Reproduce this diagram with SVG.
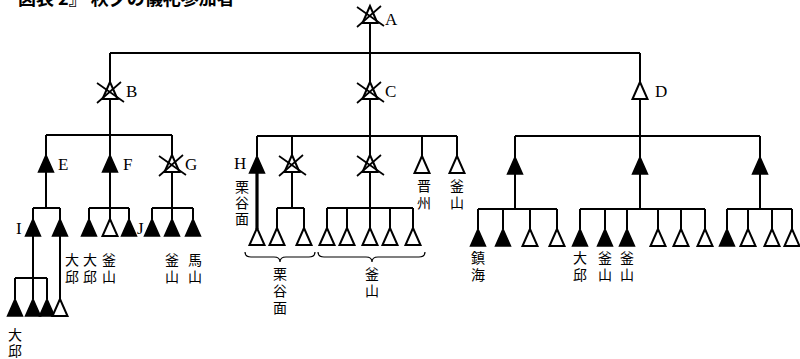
<svg xmlns="http://www.w3.org/2000/svg" xmlns:xlink="http://www.w3.org/1999/xlink" width="800" height="359" viewBox="0 0 800 359">
<style>
.ln{fill:none;stroke:#000;stroke-width:2}
.thick{fill:none;stroke:#000;stroke-width:3.2}
.br{fill:none;stroke:#000;stroke-width:1.2}
.f{fill:#000;stroke:#000;stroke-width:1.5;stroke-linejoin:miter}
.o{fill:#fff;stroke:#000;stroke-width:2;stroke-linejoin:miter}
.xl{fill:none;stroke:#000;stroke-width:1.7}
.lt{font-family:"Liberation Serif",serif;font-size:17px;fill:#000}
.cj{font-family:"Noto Sans CJK JP","Noto Sans CJK SC",sans-serif;font-size:14px;fill:#000;writing-mode:vertical-rl;letter-spacing:3px}
.ti{font-family:"Noto Sans CJK JP","Noto Sans CJK SC",sans-serif;font-size:18px;font-weight:bold;fill:#000}
</style>
<defs>
<path id="tf" class="f" d="M0,0 L-7.5,17 L7.5,17 Z"/>
<path id="to" class="o" d="M0,0 L-7.5,17 L7.5,17 Z"/>
<g id="tx"><path class="o" d="M0,0 L-7.5,17 L7.5,17 Z"/><path class="xl" d="M-13,1 L14,20 M11,0 L-13,21"/></g>
</defs>
<rect width="800" height="359" fill="#fff"/>
<text class="ti" x="18" y="5">図表 2』 秋夕の儀礼参加者</text>

<g id="connectors">
<path class="ln" d="M370,22 V136 M110,53 H640 M110,53 V135 M46,135 H172 M46,135 V208 M110,135 V208 M172,135 V208 M33,208 H60 M33,208 V299 M60,208 V300 M15,278 H47 M15,278 V299 M47,278 V299 M89,208 H129 M89,208 V219 M110,208 V219 M129,208 V219 M152,208 H193 M152,208 V219 M172,208 V219 M193,208 V219"/>
<path class="ln" d="M257,136 H457 M257,136 V156 M292,136 V208 M277,208 H304 M277,208 V228 M304,208 V228 M370,136 V208 M327,208 H413 M327,208 V228 M347,208 V228 M370,208 V228 M390,208 V228 M413,208 V228 M422,136 V156 M457,136 V156"/>
<path class="thick" d="M257,170 V229"/>
<path class="ln" d="M640,53 V136 M515,136 H760 M515,136 V209 M640,136 V209 M760,136 V209 M478,209 H557 M478,209 V229 M503,209 V229 M530,209 V229 M557,209 V229 M580,209 H705 M580,209 V229 M605,209 V229 M627,209 V229 M658,209 V229 M681,209 V229 M705,209 V229 M727,209 H792 M727,209 V229 M748,209 V229 M772,209 V229 M792,209 V229"/>
<path class="br" d="M245,252 Q245,257 251,257 L274,257 Q280,257 280,262 Q280,257 286,257 L309,257 Q315,257 315,252"/>
<path class="br" d="M318,252 Q318,257 324,257 L366,257 Q372,257 372,262 Q372,257 378,257 L419,257 Q425,257 425,252"/>
</g>

<g id="nA"><use xlink:href="#tx" x="370" y="6"/><text class="lt" x="385" y="25">A</text></g>
<g id="nB"><use xlink:href="#tx" x="110" y="82"/><text class="lt" x="126" y="97">B</text></g>
<g id="nC"><use xlink:href="#tx" x="370" y="82"/><text class="lt" x="385" y="97">C</text></g>
<g id="nD"><use xlink:href="#to" x="640" y="82"/><text class="lt" x="655" y="97">D</text></g>

<g id="nE"><use xlink:href="#tf" x="46" y="155"/><text class="lt" x="58" y="170">E</text></g>
<g id="nF"><use xlink:href="#tf" x="110" y="155"/><text class="lt" x="123" y="170">F</text></g>
<g id="nG"><use xlink:href="#tx" x="172" y="155"/><text class="lt" x="185" y="170">G</text></g>

<g id="nI"><use xlink:href="#tf" x="33" y="219"/><text class="lt" x="16" y="234">I</text></g>
<g id="nE2"><use xlink:href="#tf" x="60" y="219"/><text class="cj" x="72" y="253">大邱</text></g>
<g id="nI1"><use xlink:href="#tf" x="15" y="299"/><text class="cj" x="15" y="328" style="letter-spacing:2px">大邱</text></g>
<g id="nI2"><use xlink:href="#tf" x="33" y="299"/></g>
<g id="nI3"><use xlink:href="#tf" x="47" y="299"/></g>
<g id="nI4"><use xlink:href="#to" x="60" y="299"/></g>

<g id="nF1"><use xlink:href="#tf" x="89" y="219"/><text class="cj" x="90" y="253">大邱</text></g>
<g id="nF2"><use xlink:href="#to" x="110" y="219"/><text class="cj" x="109" y="253">釜山</text></g>
<g id="nF3"><use xlink:href="#tf" x="129" y="219"/></g>

<g id="nJ"><use xlink:href="#tf" x="152" y="219"/><text class="lt" x="137" y="234">J</text></g>
<g id="nG2"><use xlink:href="#tf" x="172" y="219"/><text class="cj" x="172" y="253">釜山</text></g>
<g id="nG3"><use xlink:href="#tf" x="193" y="219"/><text class="cj" x="195" y="253">馬山</text></g>

<g id="nH"><use xlink:href="#tf" x="257" y="156"/><text class="lt" x="234" y="169">H</text><text class="cj" x="242" y="180" style="letter-spacing:2px">栗谷面</text></g>
<g id="nC2"><use xlink:href="#tx" x="292" y="155"/></g>
<g id="nC3"><use xlink:href="#tx" x="370" y="155"/></g>
<g id="nC4"><use xlink:href="#to" x="422" y="156"/><text class="cj" x="424" y="179">晋州</text></g>
<g id="nC5"><use xlink:href="#to" x="457" y="156"/><text class="cj" x="457" y="179">釜山</text></g>

<g id="nH1"><use xlink:href="#to" x="257" y="228"/></g>
<g id="nC21"><use xlink:href="#to" x="277" y="228"/></g>
<g id="nC22"><use xlink:href="#to" x="304" y="228"/></g>
<g id="nC31"><use xlink:href="#to" x="327" y="228"/></g>
<g id="nC32"><use xlink:href="#to" x="347" y="228"/></g>
<g id="nC33"><use xlink:href="#to" x="370" y="228"/></g>
<g id="nC34"><use xlink:href="#to" x="390" y="228"/></g>
<g id="nC35"><use xlink:href="#to" x="413" y="228"/></g>
<g id="lbl-brace1"><text class="cj" x="280" y="267">栗谷面</text></g>
<g id="lbl-brace2"><text class="cj" x="372" y="267">釜山</text></g>

<g id="nD1"><use xlink:href="#tf" x="515" y="157"/></g>
<g id="nD2"><use xlink:href="#tf" x="640" y="157"/></g>
<g id="nD3"><use xlink:href="#tf" x="760" y="157"/></g>

<g id="nD11"><use xlink:href="#tf" x="478" y="229"/><text class="cj" x="478" y="251">鎮海</text></g>
<g id="nD12"><use xlink:href="#tf" x="503" y="229"/></g>
<g id="nD13"><use xlink:href="#to" x="530" y="229"/></g>
<g id="nD14"><use xlink:href="#to" x="557" y="229"/></g>
<g id="nD21"><use xlink:href="#tf" x="580" y="229"/><text class="cj" x="580" y="251">大邱</text></g>
<g id="nD22"><use xlink:href="#tf" x="605" y="229"/><text class="cj" x="605" y="251">釜山</text></g>
<g id="nD23"><use xlink:href="#tf" x="627" y="229"/><text class="cj" x="627" y="251">釜山</text></g>
<g id="nD24"><use xlink:href="#to" x="658" y="229"/></g>
<g id="nD25"><use xlink:href="#to" x="681" y="229"/></g>
<g id="nD26"><use xlink:href="#to" x="705" y="229"/></g>
<g id="nD31"><use xlink:href="#tf" x="727" y="229"/></g>
<g id="nD32"><use xlink:href="#to" x="748" y="229"/></g>
<g id="nD33"><use xlink:href="#to" x="772" y="229"/></g>
<g id="nD34"><use xlink:href="#to" x="792" y="229"/></g>
</svg>
